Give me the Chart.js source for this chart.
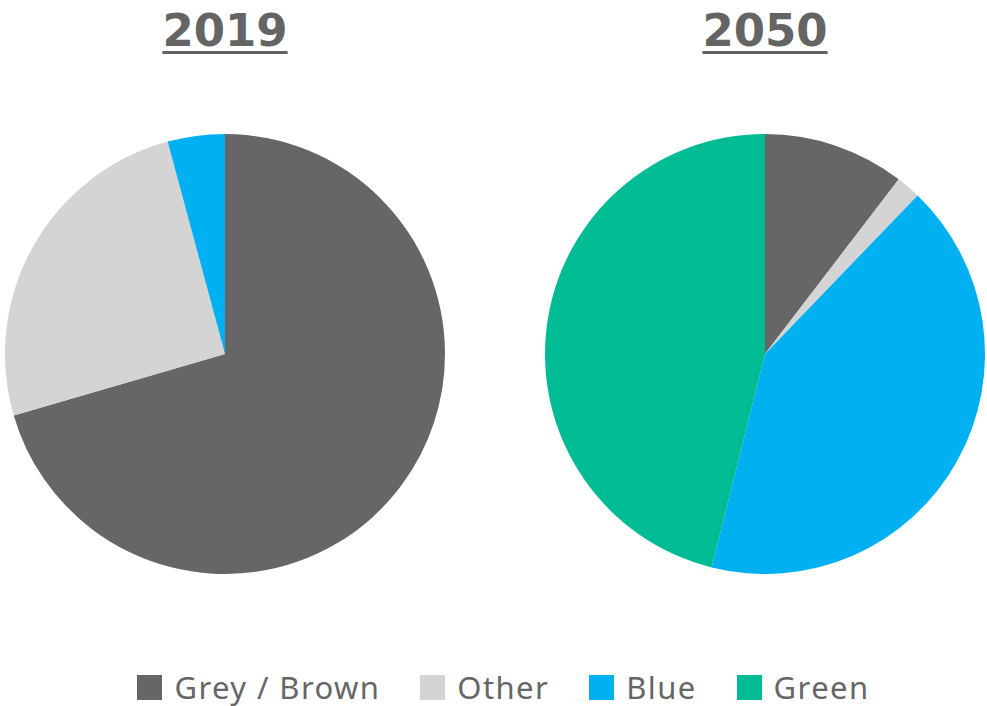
<!DOCTYPE html>
<html>
<head>
<meta charset="utf-8">
<script src="https://cdn.jsdelivr.net/npm/chart.js@4"></script>
<style>
  body { margin: 0; background: #fff; }
  #wrap { position: relative; width: 987px; height: 706px; overflow: hidden; }
  .title {
    position: absolute; top: 0; width: 440px; text-align: center;
    font-family: "DejaVu Sans", sans-serif; font-weight: bold; font-size: 45px;
    color: #646464; text-decoration: underline; text-decoration-thickness: 3px;
    text-underline-offset: 5px; line-height: 62px;
  }
  .pie { position: absolute; top: 134px; width: 440px; height: 440px; }
  #legend {
    position: absolute; top: 666px; left: 10px; width: 987px;
    display: flex; justify-content: center; align-items: center;
    font-family: "Noto Sans", sans-serif; font-size: 31px; letter-spacing: 1.4px; color: #666;
  }
  .item { display: flex; align-items: center; margin: 0 20px; }
  .box { width: 25px; height: 25px; margin-right: 12px; }
</style>
</head>
<body>
<div id="wrap">
  <div class="title" style="left:5px">2019</div>
  <div class="title" style="left:545px">2050</div>
  <div class="pie" style="left:5px"><canvas id="pie2019"></canvas></div>
  <div class="pie" style="left:545px"><canvas id="pie2050"></canvas></div>
  <div id="legend"></div>
</div>
<script>
const categories = ['Grey / Brown', 'Other', 'Blue', 'Green'];
const colors = ['#666666', '#d4d4d4', '#00b0f0', '#00bc94'];
const values2019 = [70.5, 25.3, 4.2, 0];
const values2050 = [10.4, 1.8, 41.7, 46.1];

function makePie(id, values) {
    return new Chart(document.getElementById(id), {
        type: 'pie',
        data: {
            labels: categories,
            datasets: [{
                data: values,
                backgroundColor: colors,
                borderWidth: 0
            }]
        },
        options: {
            responsive: true,
            maintainAspectRatio: false,
            animation: false,
            layout: { padding: 0 },
            plugins: {
                legend: { display: false },
                tooltip: { enabled: false }
            }
        }
    });
}

const chart2019 = makePie('pie2019', values2019);
makePie('pie2050', values2050);

// shared legend built from the chart's own legend items
const legendEl = document.getElementById('legend');
Chart.overrides.pie.plugins.legend.labels.generateLabels(chart2019).forEach(function (item) {
    const div = document.createElement('div');
    div.className = 'item';
    div.innerHTML = '<span class="box" style="background:' + item.fillStyle + '"></span>' + item.text;
    legendEl.appendChild(div);
});
</script>
</body>
</html>
